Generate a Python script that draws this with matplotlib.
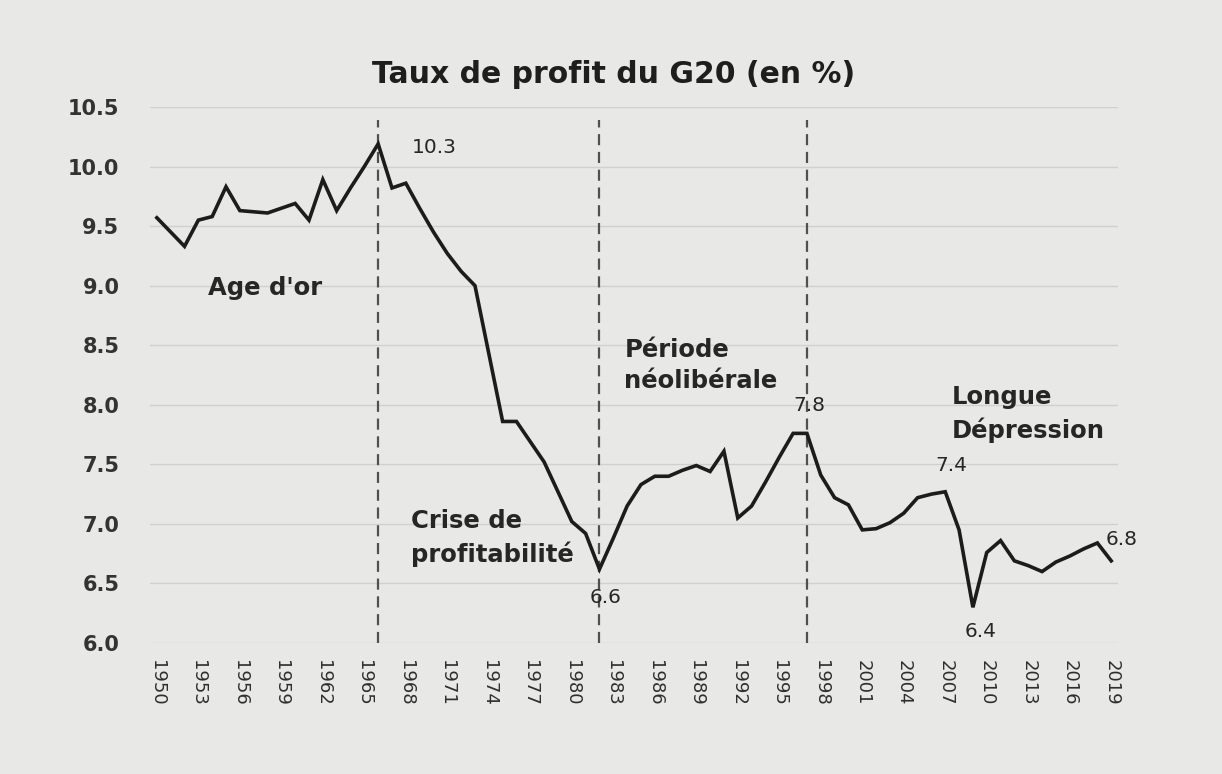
import numpy as np
import matplotlib.pyplot as plt

# ---------------- Data ---------------- #
years = list(range(1950, 2020))
profit_rate = [
    9.57, 9.45, 9.33, 9.55, 9.58, 9.83, 9.63, 9.62, 9.61, 9.65,   # 1950-1959
    9.69, 9.55, 9.89, 9.63, 9.82, 10.00, 10.19, 9.82, 9.86, 9.65,  # 1960-1969
    9.45, 9.27, 9.12, 9.00, 8.43, 7.86, 7.86, 7.69, 7.52, 7.27,    # 1970-1979
    7.02, 6.92, 6.62, 6.88, 7.15, 7.33, 7.40, 7.40, 7.45, 7.49,    # 1980-1989
    7.44, 7.61, 7.05, 7.15, 7.35, 7.56, 7.76, 7.76, 7.41, 7.22,    # 1990-1999
    7.16, 6.95, 6.96, 7.01, 7.09, 7.22, 7.25, 7.27, 6.95, 6.30,    # 2000-2009
    6.76, 6.86, 6.69, 6.65, 6.60, 6.68, 6.73, 6.79, 6.84, 6.69,    # 2010-2019
]
tick_years = list(range(1950, 2020, 3))
y_ticks = [6.0, 6.5, 7.0, 7.5, 8.0, 8.5, 9.0, 9.5, 10.0, 10.5]

period_breaks = [1966, 1982, 1997]
period_labels = ["Age d'or", "Crise de\nprofitabilité", "Période\nnéolibérale", "Longue\nDépression"]
period_label_pos = [(1953.7, 8.98), (1968.4, 6.88), (1983.8, 8.33), (2007.5, 7.92)]

value_labels = ["10.3", "6.6", "7.8", "7.4", "6.4", "6.8"]
value_label_pos = [(1968.4, 10.16), (1981.3, 6.38), (1996.0, 7.99),
                   (2006.3, 7.49), (2008.4, 6.1), (2018.6, 6.87)]

# ---------------- Figure ---------------- #
bg = '#e8e8e6'
fig = plt.figure(figsize=(12.22, 7.74), dpi=100, facecolor=bg)
ax = fig.add_axes([0.1227, 0.1692, 0.7923, 0.6926], facecolor=bg)

# horizontal grid
for v in y_ticks:
    ax.axhline(v, color='#d0d0cd', lw=1.0, zorder=0)

# period separators
for yr in period_breaks:
    ax.axvline(yr, ymin=0, ymax=0.975, color='#505050', lw=1.6,
               dashes=(5, 3), zorder=1)

# main series
ax.plot(years, profit_rate, color='#1c1c1c', lw=2.6, zorder=3,
        solid_joinstyle='miter')

# annotations
for txt, (x, y) in zip(period_labels, period_label_pos):
    ax.text(x, y, txt, ha='left', va='center', fontsize=17.5, fontweight='bold',
            color='#262626', linespacing=1.4)
for txt, (x, y) in zip(value_labels, value_label_pos):
    ax.text(x, y, txt, ha='left', va='center', fontsize=14.5, color='#262626')

# axes styling
ax.set_xlim(1949.5, 2019.5)
ax.set_ylim(6.0, 10.5)
ax.set_yticks(y_ticks)
ax.set_yticklabels([f'{v:.1f}' for v in y_ticks], fontsize=15,
                   fontweight='bold', color='#333333')
ax.set_xticks(tick_years)
ax.set_xticklabels([str(y) for y in tick_years], rotation=270, fontsize=13,
                   color='#2e2e2e')
ax.tick_params(axis='y', length=0, pad=22)
ax.tick_params(axis='x', length=0, pad=12)
for s in ax.spines.values():
    s.set_visible(False)

fig.text(0.502, 0.904, 'Taux de profit du G20 (en %)', ha='center', va='center',
         fontsize=21.5, fontweight='bold', color='#1e1e1e')

fig.savefig('out.png', dpi=100, facecolor=bg)
